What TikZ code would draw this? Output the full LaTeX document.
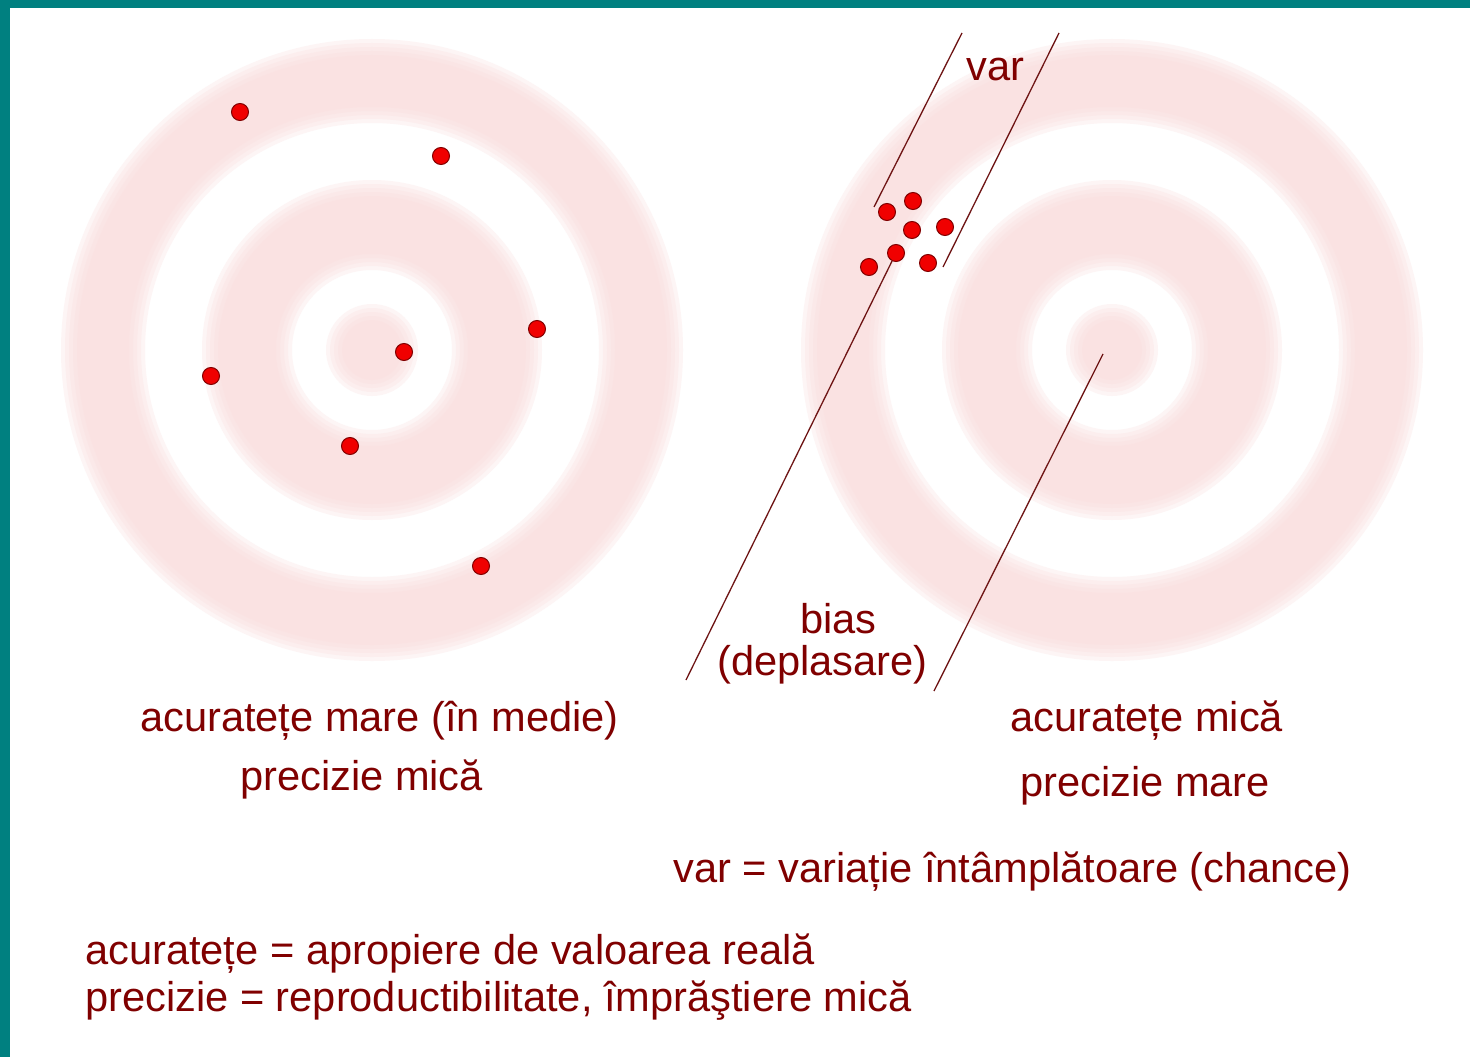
\documentclass[tikz,border=0pt]{standalone}
\usepackage{fontspec}
\setmainfont{Liberation Sans}
\definecolor{teal0}{RGB}{0,128,128}
\definecolor{ringpink}{RGB}{250,222,222}
\definecolor{txtred}{RGB}{128,0,0}
\definecolor{linered}{RGB}{110,20,20}
\definecolor{dotred}{RGB}{240,0,0}
\tikzset{
  lbl/.style={anchor=base west, inner sep=0pt, text=txtred, font=\fontsize{41.6}{48}\selectfont},
  shot/.style={circle, fill=dotred, draw=txtred, line width=1pt, minimum size=17pt, inner sep=0pt},
  guide/.style={draw=linered, line width=1.3pt},
  softband/.style={fill=ringpink, fill opacity=0.3, even odd rule}
}
\begin{document}
\begin{tikzpicture}[x=1pt,y=-1pt]
\useasboundingbox (0,0) rectangle (1470,1057);
\fill[white] (0,0) rectangle (1470,1057);
\fill[teal0] (0,0) rectangle (1470,8);
\fill[teal0] (0,0) rectangle (10,1057);
% targets (soft-edged bands)
\foreach \cx in {372,1112}{
  \foreach \i in {0,...,4}{
    \pgfmathsetmacro{\d}{8-4*\i}
    \fill[softband] (\cx,350) circle ({303+\d}) (\cx,350) circle ({235-\d});
    \fill[softband] (\cx,350) circle ({162+\d}) (\cx,350) circle ({88-\d});
    \fill[softband] (\cx,350) circle ({38+\d});
  }
}
% left shots
\node[shot] (l1) at (240,112) {};
\node[shot] (l2) at (441,156) {};
\node[shot] (l3) at (537,329) {};
\node[shot] (l4) at (211,376) {};
\node[shot] (l5) at (404,352) {};
\node[shot] (l6) at (350,446) {};
\node[shot] (l7) at (481,566) {};
% right shots
\node[shot] (r1) at (887,212) {};
\node[shot] (r2) at (913,201) {};
\node[shot] (r3) at (912,230) {};
\node[shot] (r4) at (945,227) {};
\node[shot] (r5) at (896,253) {};
\node[shot] (r6) at (869,267) {};
\node[shot] (r7) at (928,263) {};
% guide lines
\coordinate (va1) at (962,33);
\coordinate (va2) at (874,207);
\coordinate (vb1) at (1059,33);
\coordinate (vb2) at (943,267);
\coordinate (ba) at (686,680);
\coordinate (tc) at (1103,354);
\coordinate (bb) at (934,691);
\draw[guide] (va1) -- (va2);
\draw[guide] (vb1) -- (vb2);
\draw[guide] (r5) -- (ba);
\draw[guide] (tc) -- (bb);
% labels
\node[lbl] (tvar) at (966,81) {var};
\node[lbl] (tbias) at (800,633) {bias};
\node[lbl] (tdepl) at (717,675) {(deplasare)};
\node[lbl] (tl1) at (140,731) {acuratețe mare (în medie)};
\node[lbl] (tl2) at (240,790) {precizie mică};
\node[lbl] (tr1) at (1010,731) {acuratețe mică};
\node[lbl] (tr2) at (1020,796) {precizie mare};
\node[lbl] (tvardef) at (673,882) {var = variație întâmplătoare (chance)};
\node[lbl] (tdef1) at (85,964) {acuratețe = apropiere de valoarea reală};
\node[lbl] (tdef2) at (85,1011) {precizie = reproductibilitate, împrăştiere mică};
\end{tikzpicture}
\end{document}
